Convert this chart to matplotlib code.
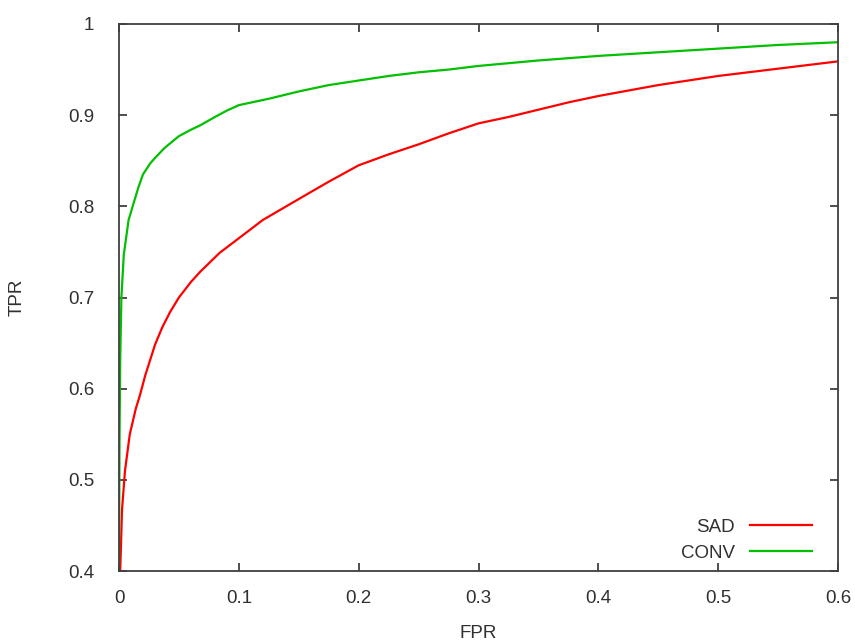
import matplotlib
matplotlib.use('Agg')
import matplotlib.pyplot as plt

plt.rcParams['font.family'] = ['Liberation Sans', 'DejaVu Sans']

# ROC curves
sad_fpr = [0.0010, 0.0017, 0.0025, 0.005, 0.009, 0.014, 0.0175, 0.022, 0.03, 0.036,
           0.0426, 0.05, 0.06, 0.0676, 0.084, 0.1, 0.12, 0.15, 0.175, 0.2, 0.225,
           0.25, 0.275, 0.3, 0.325, 0.35, 0.375, 0.4, 0.425, 0.45, 0.5, 0.55, 0.6]
sad_tpr = [0.400, 0.430, 0.467, 0.510, 0.550, 0.578, 0.593, 0.615, 0.648, 0.667,
           0.684, 0.700, 0.717, 0.728, 0.749, 0.765, 0.785, 0.808, 0.827, 0.845, 0.857,
           0.868, 0.880, 0.891, 0.898, 0.906, 0.914, 0.921, 0.927, 0.933, 0.943,
           0.951, 0.959]

conv_fpr = [0.0, 0.0004, 0.001, 0.002, 0.004, 0.008, 0.013, 0.016, 0.02, 0.026, 0.03,
            0.038, 0.05, 0.06, 0.068, 0.08, 0.09, 0.1, 0.125, 0.15, 0.175, 0.2, 0.225,
            0.25, 0.275, 0.3, 0.35, 0.4, 0.45, 0.5, 0.55, 0.6]
conv_tpr = [0.400, 0.540, 0.631, 0.700, 0.747, 0.785, 0.807, 0.820, 0.835, 0.847, 0.853,
            0.864, 0.877, 0.884, 0.889, 0.898, 0.905, 0.911, 0.918, 0.926, 0.933,
            0.938, 0.943, 0.947, 0.950, 0.954, 0.960, 0.965, 0.969, 0.973, 0.977, 0.980]

xticks = [0, 0.1, 0.2, 0.3, 0.4, 0.5, 0.6]
xticklabels = ['0', '0.1', '0.2', '0.3', '0.4', '0.5', '0.6']
yticks = [0.4, 0.5, 0.6, 0.7, 0.8, 0.9, 1.0]
yticklabels = ['0.4', '0.5', '0.6', '0.7', '0.8', '0.9', '1']

fig = plt.figure(figsize=(8.55, 6.44), dpi=100)
ax = fig.add_axes([119 / 855, 1 - 571 / 644, (838 - 119) / 855, (571 - 24) / 644])

ax.plot(sad_fpr, sad_tpr, color='#ff0000', linewidth=1.6, label='SAD')
ax.plot(conv_fpr, conv_tpr, color='#00c000', linewidth=1.6, label='CONV')

ax.set_xlim(0, 0.6)
ax.set_ylim(0.4, 1.0)
ax.set_xticks(xticks)
ax.set_xticklabels(xticklabels)
ax.set_yticks(yticks)
ax.set_yticklabels(yticklabels)

fs = 13.5
for s in ax.spines.values():
    s.set_color('#404040')
    s.set_linewidth(1.3)
ax.tick_params(direction='in', length=6, width=1.3, color='#404040',
               top=True, right=True, labelsize=fs, labelcolor='#303030')
ax.tick_params(axis='x', pad=14)
ax.tick_params(axis='y', pad=18)

ax.set_xlabel('FPR', fontsize=fs, color='#303030', labelpad=13)
ax.set_ylabel('TPR', fontsize=fs, color='#303030', labelpad=30)

leg = ax.legend(loc='lower right', frameon=False, markerfirst=False,
                fontsize=fs, handlelength=3.3, handletextpad=0.8,
                labelspacing=0.45, borderaxespad=0.0,
                bbox_to_anchor=((819 - 119) / 719, 2 / 547))
for t in leg.get_texts():
    t.set_color('#303030')
    t.set_ha('right')

fig.savefig('out.png', dpi=100)
